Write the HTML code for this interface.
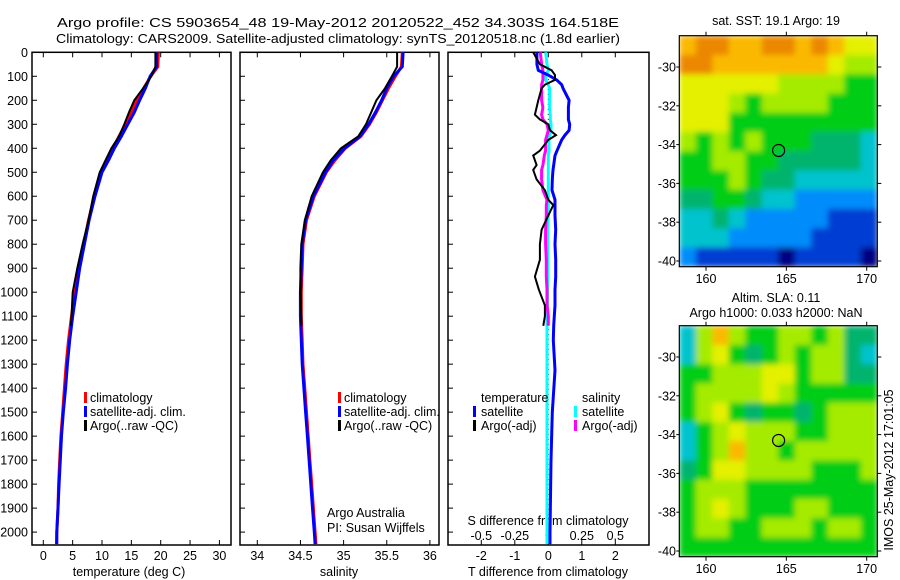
<!DOCTYPE html>
<html><head><meta charset="utf-8"><style>
body{margin:0;background:#fff;}
svg{display:block;font-family:"Liberation Sans",sans-serif;}
text{font-size:12.5px;fill:#000;}
</style></head><body>
<svg id="fig" width="900" height="580" viewBox="0 0 900 580">
<defs>
<filter id="sm" x="0" y="0" width="1" height="1"><feGaussianBlur stdDeviation="3" edgeMode="duplicate"/></filter>
<clipPath id="clip1"><rect x="679.3" y="35.7" width="198" height="231"/></clipPath>
<clipPath id="clip2"><rect x="679.3" y="325.7" width="198" height="231"/></clipPath>
</defs>
</svg>
<script>
// ---- data ----
const depthT = [0,60,100,150,200,250,300,350,400,450,500,600,700,800,900,1000,1100,1200,1300,1400,1500,1600,1700,1800,1900,2000,2050];
const tempClim = [19.6,19.5,18.3,17.1,15.9,15.0,14.0,12.9,11.9,10.9,9.9,8.7,7.7,6.9,6.1,5.4,4.8,4.3,3.9,3.6,3.3,3.0,2.8,2.6,2.5,2.3,2.25];
const tempSat  = [19.3,19.3,18.2,17.4,16.4,15.5,14.4,13.3,12.1,11.1,10.0,8.8,7.8,7.0,6.2,5.6,5.0,4.5,4.1,3.8,3.4,3.1,2.9,2.7,2.5,2.3,2.3];
const depthA = [0,60,100,150,200,250,300,350,400,450,500,600,700,800,900,1000,1100,1140];
const tempArgo = [19.1,19.1,18.4,17.0,15.5,14.6,13.8,12.9,11.6,10.6,9.6,8.5,7.7,6.7,5.8,5.0,4.8,4.7];
const salClim = [35.68,35.67,35.60,35.52,35.45,35.38,35.30,35.20,35.02,34.90,34.80,34.66,34.57,34.53,34.52,34.51,34.51,34.52,34.53,34.55,34.57,34.59,34.61,34.63,34.65,34.67,34.68];
const salSat  = [35.69,35.68,35.58,35.50,35.44,35.37,35.29,35.19,35.01,34.88,34.79,34.65,34.56,34.52,34.51,34.50,34.50,34.51,34.52,34.54,34.56,34.58,34.60,34.62,34.64,34.66,34.67];
const salArgo = [35.62,35.62,35.56,35.48,35.38,35.32,35.26,35.17,34.97,34.85,34.76,34.63,34.55,34.51,34.50,34.50,34.51,34.51];
const diffDepth = [0,50,75,95,115,135,150,200,230,260,280,300,325,345,365,410,430,470,490,530,575,615,637,680,740,800,865,935,990,1055,1100,1140,1200,1325,1500,1700,2000,2050];
const dTsat  = [-0.34,-0.34,-0.3,0.0,0.25,0.4,0.44,0.62,0.6,0.6,0.6,0.64,0.62,0.5,0.4,0.26,0.2,0.16,0.14,0.12,0.11,0.2,0.2,0.2,0.22,0.2,0.22,0.22,0.2,0.2,0.18,0.16,0.15,0.2,0.12,0.08,0.05,0.05];
const dTargo = [-0.45,-0.25,0.1,0.2,0.2,-0.1,-0.2,-0.3,-0.35,-0.4,-0.25,0.0,0.05,0.23,0.0,-0.25,-0.45,-0.35,-0.45,-0.35,-0.1,0.0,0.15,0.0,-0.2,-0.25,-0.25,-0.4,-0.28,-0.1,-0.1,-0.15];
const dSsat  = [-0.02,-0.01,0.0,-0.02,-0.02,0.0,0.01,0.01,0.01,0.015,0.015,0.02,0.02,0.01,0.005,0.005,0.0,0.0,0.0,0.0,0.0,0.0,0.0,0.0,-0.005,-0.005,-0.005,-0.005,-0.005,-0.005,-0.01,-0.01,-0.01,-0.01,-0.01,-0.01,-0.01,-0.01];
const dSargo = [-0.06,-0.05,-0.04,-0.04,-0.04,-0.05,-0.05,-0.05,-0.04,-0.05,-0.04,-0.01,0.0,-0.01,-0.02,-0.02,-0.03,-0.04,-0.05,-0.05,-0.04,-0.01,-0.015,-0.015,-0.02,-0.02,-0.015,-0.015,-0.01,-0.01,0.0,0.0];
const depthTicks = [0,100,200,300,400,500,600,700,800,900,1000,1100,1200,1300,1400,1500,1600,1700,1800,1900,2000];
const tempTicks = [0,5,10,15,20,25,30];
const salTicks = [34,34.5,35,35.5,36];
const tdiffTicks = [-2,-1,0,1,2];
const sdiffTicks = [-0.5,-0.25,0,0.25,0.5];
const sdiffTickLabels = ['-0.5','-0.25','0','0.25','0.5'];
const lonTicks = [160,165,170];
const latTicks = [-30,-32,-34,-36,-38,-40];
const sstGrid = [
[8,9,9,8,8,9,9,8,9,8,7,7],
[9,9,8,8,8,8,8,8,8,7,6,6],
[7,7,7,7,7,7,6,6,6,6,5,5],
[7,7,7,6,5,6,6,6,6,5,5,5],
[7,7,7,5,5,5,5,5,5,5,5,5],
[6,5,6,5,6,5,5,5,4,4,4,3],
[5,5,6,6,5,5,4,4,4,4,4,3],
[5,5,5,6,5,4,4,3,3,3,3,3],
[4,4,5,5,4,3,3,2,2,2,2,2],
[3,3,4,3,2,2,2,2,2,1,1,1],
[3,3,3,2,2,2,2,2,1,1,1,1],
[2,1,1,1,1,1,0,1,1,1,1,0]];
const slaGrid = [
[3,6,8,6,5,5,6,6,5,6,4,4],
[3,6,7,5,4,5,6,5,6,6,4,3],
[5,5,6,6,6,7,7,5,6,6,4,4],
[5,6,6,6,6,7,6,5,5,5,5,5],
[5,6,7,5,4,5,5,4,5,6,6,6],
[3,5,6,7,6,6,6,5,5,6,6,6],
[3,5,6,8,6,6,5,6,6,6,6,6],
[4,5,7,7,6,6,6,6,5,5,5,6],
[5,6,6,6,5,5,5,5,5,5,5,5],
[5,6,7,6,5,5,5,6,6,5,5,5],
[5,6,6,5,5,6,6,6,5,6,6,5],
[5,5,5,5,5,5,5,5,5,5,5,5]];
const floatLon = 164.518, floatLat = -34.303;

// ---- helpers ----
const NS='http://www.w3.org/2000/svg';
const svg=document.getElementById('fig');
function el(tag,attrs,parent,txt){const e=document.createElementNS(NS,tag);for(const k in attrs)e.setAttribute(k,attrs[k]);if(txt!==undefined)e.textContent=txt;(parent||svg).appendChild(e);return e;}
const PY0=52.3, PY1=545;
const yD = d => PY0 + d*0.2399;
const P1={x0:32,x1:231}, P2={x0:240,x1:439}, P3={x0:448,x1:649};
const xT = v => 43.3 + v*5.87;
const xS = v => 257.3 + (v-34)*86.3;
const xTd = v => 548.3 + v*33.5;
const xSd = v => 548.3 + v*134;
const cmap = ['rgb(0,0,130)','rgb(0,60,210)','rgb(0,140,250)','rgb(0,195,205)','rgb(0,180,110)','rgb(0,205,20)','rgb(165,235,0)','rgb(228,240,0)','rgb(250,185,0)','rgb(235,135,0)'];

function line(xs,ds,fx,color,w,name){
  const pts=xs.map((v,i)=>fx(v).toFixed(1)+','+yD(ds[i]).toFixed(1)).join(' ');
  const p=el('polyline',{points:pts,fill:'none',stroke:color,'stroke-width':w,'stroke-linejoin':'miter'});
  
  
}
function panel(P,name){
  const g=el('rect',{x:P.x0,y:PY0,width:P.x1-P.x0,height:PY1-PY0,fill:'none',stroke:'#000','stroke-width':1.5});
  
  
  depthTicks.forEach(d=>{el('line',{x1:P.x0,x2:P.x0+5,y1:yD(d),y2:yD(d),stroke:'#000'});});
}
function xticks(P,ticks,fx,labels,name){
  ticks.forEach((t,i)=>{const x=fx(t);
    el('line',{x1:x,x2:x,y1:PY0,y2:PY0+5,stroke:'#000'});
    el('line',{x1:x,x2:x,y1:PY1,y2:PY1-5,stroke:'#000'});
    const tx=el('text',{x:x,y:560,'text-anchor':'middle','font-size':13},svg,labels?labels[i]:String(t));
    
    
  });
}
function txt(x,y,s,name,anchor,size){const t=el('text',{x:x,y:y,'text-anchor':anchor||'start','font-size':size||12.5},svg,s);return t;}

// titles
const t1=txt(338,27,'Argo profile: CS 5903654_48 19-May-2012 20120522_452 34.303S 164.518E','title-line-1','middle',14);
t1.setAttribute('textLength','562');t1.setAttribute('lengthAdjust','spacingAndGlyphs');
const t2=txt(338,43,'Climatology: CARS2009. Satellite-adjusted climatology: synTS_20120518.nc (1.8d earlier)','title-line-2','middle',14);
t2.setAttribute('textLength','564');t2.setAttribute('lengthAdjust','spacingAndGlyphs');

// depth tick labels
depthTicks.forEach(d=>{const t=el('text',{x:28,y:yD(d)+4.5,'text-anchor':'end','font-size':13},svg,String(d));});

// panel 1 temperature
panel(P1,'temperature-panel');
xticks(P1,tempTicks,xT,null,'temperature-tick-label');
txt(129,576,'temperature (deg C)','temperature-axis-title','middle',13);
line(tempClim,depthT,xT,'#ff0000',3,'temp-climatology-line');
line(tempSat,depthT,xT,'#0000ff',3,'temp-satellite-line');
line(tempArgo,depthA,xT,'#000000',2,'temp-argo-line');

// panel 2 salinity
panel(P2,'salinity-panel');
xticks(P2,salTicks,xS,null,'salinity-tick-label');
txt(339,576,'salinity','salinity-axis-title','middle',13);
line(salClim,depthT,xS,'#ff0000',3,'sal-climatology-line');
line(salSat,depthT,xS,'#0000ff',3,'sal-satellite-line');
line(salArgo,depthA,xS,'#000000',2,'sal-argo-line');

// legends panel 1 & 2
[[84,'temp-legend'],[338,'sal-legend']].forEach(([lx,nm])=>{
  [['climatology','#ff0000'],['satellite-adj. clim.','#0000ff'],['Argo(..raw -QC)','#000']].forEach((it,i)=>{
    const y=402+i*14;
    el('rect',{x:lx,y:y-10,width:3,height:11,fill:it[1]});
    txt(lx+6,y,it[0],nm+'-entry','start',13);
  });
});
txt(327,517,'Argo Australia','argo-australia-label','start',13);
txt(327,532,'PI: Susan Wijffels','pi-label','start',13);

// panel 3 differences
panel(P3,'difference-panel');
xticks(P3,tdiffTicks,xTd,null,'tdiff-tick-label');
sdiffTicks.forEach((t,i)=>{txt(xSd(t),540,sdiffTickLabels[i],'sdiff-tick-label','middle',13);});
txt(548,525,'S difference from climatology','sdiff-axis-title','middle',13);
txt(548,576,'T difference from climatology','tdiff-axis-title','middle',13);
el('line',{x1:548.3,x2:548.3,y1:yD(90),y2:PY1,stroke:'#000','stroke-dasharray':'1,4'});
line(dSsat,diffDepth,xSd,'#00ffff',3,'sdiff-satellite-line');
line(dSargo,diffDepth.slice(0,dSargo.length),xSd,'#ff00ff',3,'sdiff-argo-line');
line(dTsat,diffDepth,xTd,'#0000ff',3,'tdiff-satellite-line');
line(dTargo,diffDepth.slice(0,dTargo.length),xTd,'#000000',2,'tdiff-argo-line');
txt(481,402,'temperature','legend-temperature-header','start',13);
txt(582,402,'salinity','legend-salinity-header','start',13);
[['satellite','#0000ff',473],['Argo(-adj)','#000',473],['satellite','#00ffff',574],['Argo(-adj)','#ff00ff',574]].forEach((it,i)=>{
  const y=416+(i%2)*14;
  el('rect',{x:it[2],y:y-10,width:3,height:11,fill:it[1]});
  txt(it[2]+8,y,it[0],'diff-legend-entry','start',13);
});

// maps
const MX0=679.3, MX1=877.3;
const xLon = v => 706 + (v-160)*16.07;
const yLat = (v,oy) => oy + 67 + (-30-v)*19.4;
function map(oy,grid,name,clipId){
  const top=oy+35.7, bot=oy+266.7;
  const rows=grid.length, cols=grid[0].length;
  const cw=(MX1-MX0)/cols, ch=(bot-top)/rows;
  const cg=el('g',{'clip-path':'url(#'+clipId+')'});
  const g=el('g',{filter:'url(#sm)'},cg);
  grid.forEach((row,r)=>row.forEach((v,c)=>{
    const cell=el('rect',{x:MX0+c*cw,y:top+r*ch,width:cw+0.5,height:ch+0.5,fill:cmap[v]},g);
    
    
  }));
  const fr=el('rect',{x:MX0,y:top,width:MX1-MX0,height:bot-top,fill:'none',stroke:'#000','stroke-width':1.2});
  
  
  lonTicks.forEach(l=>{const x=xLon(l);
    el('line',{x1:x,x2:x,y1:top,y2:top-4,stroke:'#000'});
    el('line',{x1:x,x2:x,y1:bot,y2:bot+4,stroke:'#000'});
    txt(x,oy+283,String(l),name+'-lon-label','middle',13);});
  latTicks.forEach(l=>{const y=yLat(l,oy);
    el('line',{x1:MX1,x2:MX1+4,y1:y,y2:y,stroke:'#000'});
    el('line',{x1:MX0,x2:MX0-3,y1:y,y2:y,stroke:'#000'});
    txt(676,y+4.5,String(l),name+'-lat-label','end',13);});
  const c=el('circle',{cx:xLon(floatLon),cy:yLat(floatLat,oy),r:6,fill:'none',stroke:'#000','stroke-width':1.2});
  
  
}
map(0,sstGrid,'sst-map','clip1');
map(290,slaGrid,'sla-map','clip2');
txt(776,25,'sat. SST: 19.1  Argo: 19','sst-map-title','middle',13);
txt(776,302,'Altim. SLA: 0.11','sla-map-title-1','middle',13);
txt(776,317,'Argo h1000: 0.033 h2000: NaN','sla-map-title-2','middle',13);
const vt=txt(0,0,'IMOS 25-May-2012 17:01:05','timestamp-label','middle',13);
vt.setAttribute('transform','translate(893,470) rotate(-90)');
</script>
</body></html>
